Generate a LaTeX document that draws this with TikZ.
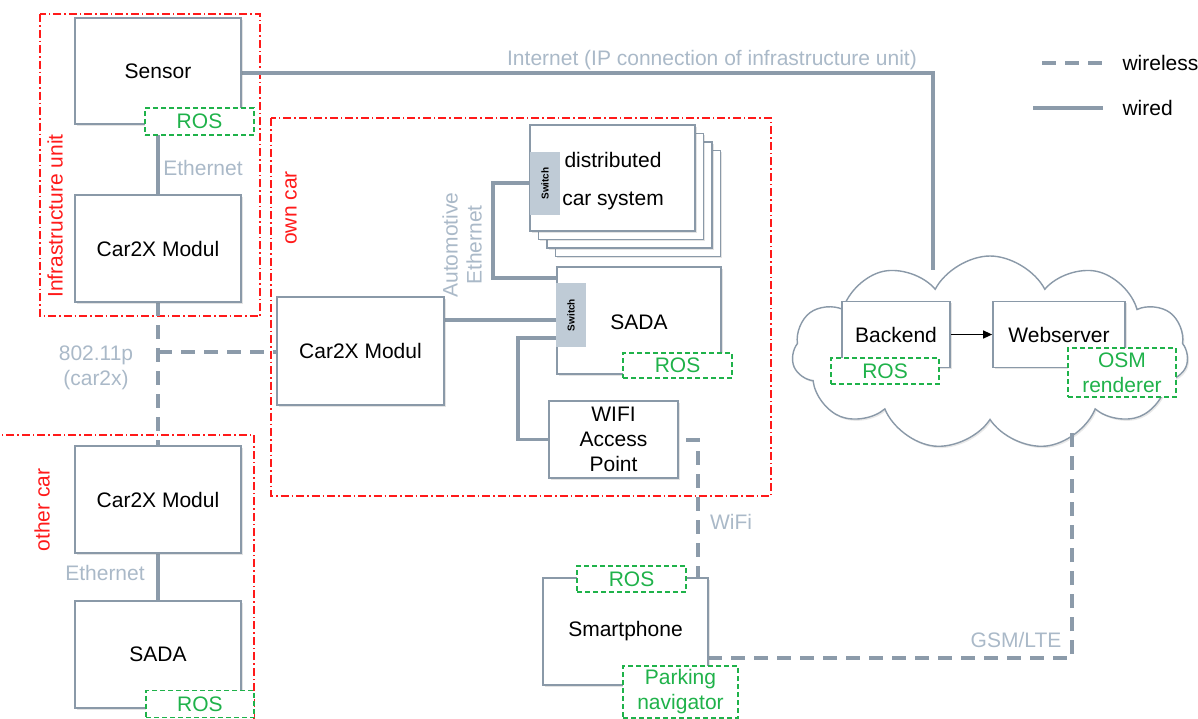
\documentclass[tikz,border=0pt]{standalone}
\usepackage{fontspec}
\setmainfont{Liberation Sans}
\usetikzlibrary{shapes.symbols,shadows,arrows.meta}

\definecolor{boxline}{HTML}{8A99A8}
\definecolor{wireline}{HTML}{8C9BAA}
\definecolor{linklabel}{HTML}{AAB9C8}
\definecolor{rosgreen}{HTML}{1FB24A}
\definecolor{zonered}{HTML}{FF1A1A}
\definecolor{switchfill}{HTML}{BFCBD6}

\tikzset{
  txt/.style={font=\fontsize{21}{25}\selectfont},
  box/.style={txt, draw=boxline, line width=1.7pt, fill=white, inner sep=0pt,
    drop shadow={shadow xshift=1.5pt, shadow yshift=-1.8pt, opacity=0.22}},
  tag/.style={txt, draw=rosgreen, text=rosgreen, line width=1.5pt, fill=white,
    dash pattern=on 5pt off 3pt, inner sep=0pt, align=center},
  zone/.style={draw=zonered, line width=1.4pt, dash pattern=on 8pt off 3pt on 1.5pt off 3pt},
  zonelabel/.style={txt, text=zonered, rotate=90},
  linklbl/.style={txt, text=linklabel, align=center},
  wired/.style={draw=wireline, line width=3.4pt},
  wireless/.style={draw=wireline, line width=4pt, dash pattern=on 14pt off 9pt},
  switchbox/.style={fill=switchfill, minimum width=30pt, minimum height=63pt, inner sep=0pt},
  switchtxt/.style={font=\fontsize{10}{10}\selectfont\bfseries, rotate=90}
}

\begin{document}
\begin{tikzpicture}[x=1pt,y=-1pt]
\useasboundingbox (0,0) rectangle (1198,718);
\clip (0,0) rectangle (1198,718);

% ---------- zones ----------
\draw[zone] (40,14) rectangle (260,316);
\draw[zone] (271,118) rectangle (771,496);
\draw[zone] (-12,435) rectangle (254,740);
\node[zonelabel] (lblinfra) at (55,216) {Infrastructure unit};
\node[zonelabel] (lblown) at (291,208) {own car};
\node[zonelabel] (lblother) at (42,510) {other car};

% ---------- cloud ----------
\node[cloud, cloud puffs=11, cloud puff arc=125, aspect=2.0, draw=boxline,
      line width=1.4pt, fill=white, minimum width=396pt, minimum height=194pt,
      drop shadow={shadow xshift=1.5pt, shadow yshift=-1.8pt, opacity=0.18}]
      (cloud) at (990,353) {};

% ---------- named ends of links ----------
\coordinate (inetcorner) at (933,73);
\coordinate (inetend) at (933,270);
\coordinate (branch) at (158,352);
\coordinate (dcsA) at (493,183);
\coordinate (dcsB) at (493,278);
\coordinate (sadaA) at (518,338);
\coordinate (sadaB) at (518,439.5);
\coordinate (wifiA) at (686,440);
\coordinate (wifiB) at (698,440);
\coordinate (wifiC) at (698,578);
\coordinate (gsmA) at (708,658);
\coordinate (gsmB) at (1072,658);
\coordinate (gsmC) at (1072,426);
\coordinate (sadaleft) at (557,278);

% ---------- links (drawn below the boxes) ----------
\draw[wired] (158,71) -- (158,248);
\draw[wired] (241,73) -- (inetcorner) -- (inetend);
\draw[wireless] (158,302) -- (158,446);
\draw[wireless] (branch) -- (277,352);
\draw[wired] (444,320) -- (557,320);
\draw[wired] (545,183) -- (dcsA) -- (dcsB) -- (sadaleft);
\draw[wired] (571,338) -- (sadaA) -- (sadaB) -- (613,439.5);
\draw[wireless] (wifiA) -- (wifiB) -- (wifiC);
\draw[wireless] (gsmA) -- (gsmB) -- (gsmC);
\draw[wired] (158,499) -- (158,655);

% ---------- infrastructure unit ----------
\node[box, minimum width=166pt, minimum height=106pt] (sensor) at (158,71) {Sensor};
\node[box, minimum width=166pt, minimum height=107pt] (infracx) at (158,248.5) {Car2X Modul};
\node[tag, minimum width=109pt, minimum height=27pt] (sensorros) at (199.5,121.5) {ROS};

% ---------- own car ----------
\node[box, minimum width=167pt, minimum height=108pt] (owncx) at (360.5,351) {Car2X Modul};
\foreach \k in {3,2,1} {
  \node[box, minimum width=165pt, minimum height=106pt] (dcs\k) at (612.5+8.5*\k,178+8.5*\k) {};
}
\node[box, minimum width=165pt, minimum height=106pt] (dcs) at (612.5,178) {};
\node[switchbox] (dcsswitch) at (545,183.5) {};
\node[switchtxt] (dcsswitchtxt) at (dcsswitch) {Switch};
\node[txt, align=center, font=\fontsize{21}{38}\selectfont] (dcstxt) at (613,181) {distributed\\car system};

\node[box, minimum width=164pt, minimum height=107pt] (ownsada) at (639,320.5) {};
\node[txt] (ownsadatxt) at (639,322) {SADA};
\node[switchbox, minimum height=64pt] (sadaswitch) at (571,315) {};
\node[switchtxt] (sadaswitchtxt) at (sadaswitch) {Switch};
\node[tag, minimum width=109pt, minimum height=25pt] (ownsadaros) at (677.5,365.5) {ROS};

\node[box, minimum width=129pt, minimum height=77pt, align=center] (wifi) at (613.5,439.5) {WIFI\\Access\\Point};

% ---------- other car ----------
\node[box, minimum width=166pt, minimum height=107pt] (othercx) at (158,499.5) {Car2X Modul};
\node[box, minimum width=166pt, minimum height=107pt] (othersada) at (158,654.5) {SADA};
\node[tag, minimum width=108pt, minimum height=27pt] (othersadaros) at (200,704) {ROS};

% ---------- smartphone ----------
\node[box, minimum width=165pt, minimum height=107pt] (phone) at (625.5,631.5) {Smartphone};
\node[tag, minimum width=109pt, minimum height=26pt] (phoneros) at (631.5,579) {ROS};
\node[tag, minimum width=115pt, minimum height=52pt] (parking) at (680.5,692) {Parking\\navigator};

% ---------- backend in the cloud ----------
\node[box, minimum width=108pt, minimum height=66pt] (backend) at (896,334.5) {Backend};
\node[box, minimum width=132pt, minimum height=66pt] (web) at (1059,334.5) {Webserver};
\draw[-{Triangle[length=9pt,width=8pt]}, line width=1.2pt] (backend.east) -- (web.west);
\node[tag, minimum width=108pt, minimum height=26pt] (backendros) at (885,371) {ROS};
\node[tag, minimum width=108pt, minimum height=49pt] (osm) at (1122,372.5) {OSM\\renderer};

% ---------- link labels ----------
\node[linklbl] (l1) at (203,168) {Ethernet};
\node[linklbl] (l2) at (96,368) {802.11p\\(car2x)};
\node[linklbl] (l3) at (105,573) {Ethernet};
\node[linklbl, rotate=90, font=\fontsize{21}{24}\selectfont] (l4) at (462,245) {Automotive\\Ethernet};
\node[linklbl] (l5) at (731,522) {WiFi};
\node[linklbl] (l6) at (1016,640) {GSM/LTE};
\node[linklbl] (l7) at (712,60) {Internet (IP connection of infrastructure unit)};

% ---------- legend ----------
\coordinate (lgA) at (1042,63);
\coordinate (lgB) at (1103,63);
\coordinate (lgC) at (1033,108);
\coordinate (lgD) at (1103,108);
\draw[wireless] (lgA) -- (lgB);
\draw[wired] (lgC) -- (lgD);
\node[txt, anchor=west] (lgwl) at (1119,63) {wireless};
\node[txt, anchor=west] (lgwd) at (1119,108) {wired};
\end{tikzpicture}
\end{document}
